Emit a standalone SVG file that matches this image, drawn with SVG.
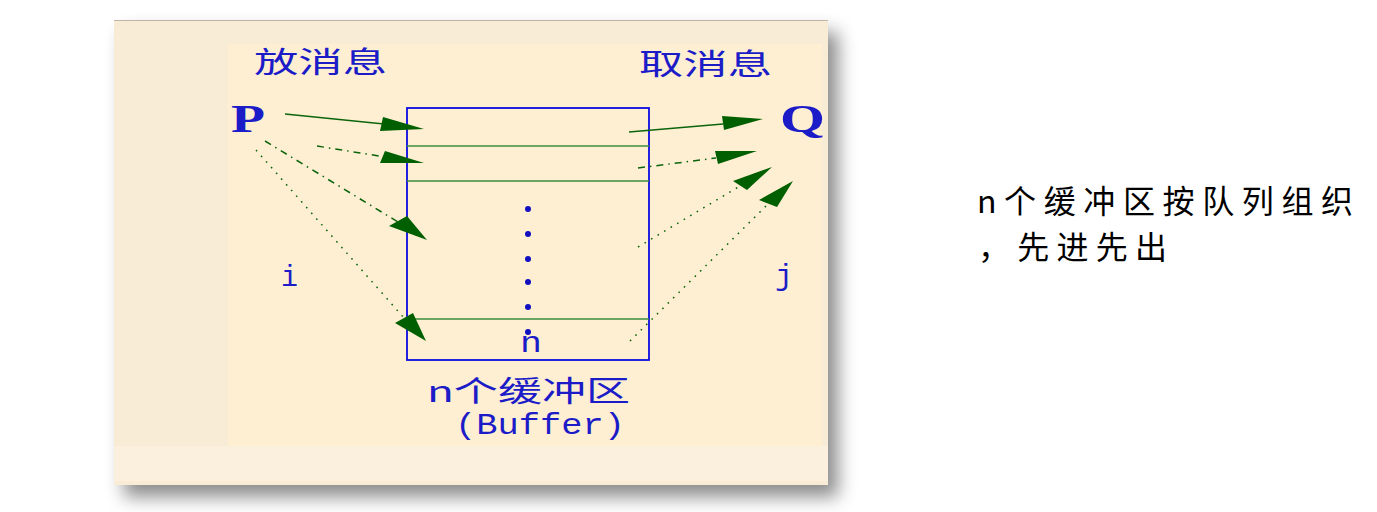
<svg xmlns="http://www.w3.org/2000/svg" width="1377" height="512" viewBox="0 0 1377 512">
<defs>
<filter id="sh" x="-10%" y="-10%" width="130%" height="130%">
<feDropShadow dx="10" dy="12" stdDeviation="9" flood-color="#000" flood-opacity="0.45"/>
</filter>
<style>
.lbl{font-family:"Noto Sans CJK SC","Liberation Serif",serif;font-size:29px;fill:#1b1bc8}
.lat{font-family:"Liberation Mono","Noto Sans CJK SC",monospace;font-weight:normal;fill:#1b1bc8}
.big{font-family:"Liberation Serif",serif;font-size:40px;font-weight:bold;fill:#1b1bc8}
.note{font-family:"Noto Sans CJK SC","Liberation Sans",sans-serif;font-size:32px;fill:#000}
.ln{stroke:#0b640b;stroke-width:1.5;fill:none}
.dd{stroke-dasharray:7 5 1.5 5}
.dt{stroke-dasharray:1.6 6}
.ah{fill:#005f00}
.row{stroke:#3d8c3d;stroke-width:1.6}
.dot{fill:#1010c0}
</style>
</defs>
<rect width="1377" height="512" fill="#ffffff"/>
<g id="panel">
<rect x="114" y="20" width="714" height="465" fill="#f9ecd6" filter="url(#sh)"/>
<line x1="114" y1="20.5" x2="828" y2="20.5" stroke="#bdb5a8" stroke-width="1"/>
<rect x="228" y="44" width="594" height="402" fill="#feefd2"/>
<rect x="114" y="446" width="714" height="35" fill="#fbf0dd"/>
</g>
<g id="labels">
<text class="lbl" x="254" y="73" textLength="133" lengthAdjust="spacingAndGlyphs">放消息</text>
<text class="lbl" x="639" y="75" textLength="133" lengthAdjust="spacingAndGlyphs">取消息</text>
<text class="lat" x="281" y="286" font-size="30" textLength="17" lengthAdjust="spacingAndGlyphs">i</text>
<text class="lat" x="775" y="285" font-size="30" textLength="18" lengthAdjust="spacingAndGlyphs">j</text>
</g>
<g id="P">
<text class="big" x="231" y="132" textLength="34" lengthAdjust="spacingAndGlyphs">P</text>
</g>
<g id="Q">
<text class="big" x="780" y="132" textLength="45" lengthAdjust="spacingAndGlyphs">Q</text>
</g>
<g id="buffer">
<rect x="407" y="108" width="242" height="252" fill="none" stroke="#0a0ae0" stroke-width="1.8"/>
<line class="row" x1="407" y1="146" x2="649" y2="146"/>
<line class="row" x1="407" y1="181" x2="649" y2="181"/>
<line class="row" x1="407" y1="319" x2="649" y2="319"/>
<circle class="dot" cx="528" cy="209" r="3"/>
<circle class="dot" cx="528" cy="234" r="3"/>
<circle class="dot" cx="528" cy="259" r="3"/>
<circle class="dot" cx="528" cy="282" r="3"/>
<circle class="dot" cx="528" cy="307" r="3"/>
<circle class="dot" cx="528" cy="332" r="3"/>
<text class="lat" x="520" y="352" font-size="30" textLength="22" lengthAdjust="spacingAndGlyphs">n</text>
<text class="lbl" x="427" y="402" textLength="203" lengthAdjust="spacingAndGlyphs">n个缓冲区</text>
<text class="lat" x="455" y="434" font-size="29" textLength="170" lengthAdjust="spacingAndGlyphs">(Buffer)</text>
</g>
<g id="connectors">
<line class="ln" x1="285" y1="114" x2="384" y2="124"/>
<polygon class="ah" points="383,117 380,131 424,129"/>
<line class="ln dd" x1="317" y1="146" x2="385" y2="157"/>
<polygon class="ah" points="385,151 380,163 424,163"/>
<line class="ln dd" x1="265" y1="141" x2="398" y2="222"/>
<polygon class="ah" points="407,216 389,226 427,240"/>
<line class="ln dt" x1="256" y1="150" x2="404" y2="318"/>
<polygon class="ah" points="413,313 395,323 426,341"/>
<line class="ln" x1="629" y1="132" x2="723" y2="124"/>
<polygon class="ah" points="722,116 724,130 763,119"/>
<line class="ln dd" x1="638" y1="168" x2="716" y2="158"/>
<polygon class="ah" points="715,151 718,164 757,151"/>
<line class="ln dt" x1="638" y1="247" x2="740" y2="186"/>
<polygon class="ah" points="733,181 747,190 772,167"/>
<line class="ln dt" x1="630" y1="341" x2="768" y2="204"/>
<polygon class="ah" points="759,200 777,207 793,181"/>
</g>
<g id="note">
<text class="note" x="977" y="213" textLength="376" lengthAdjust="spacing">n个缓冲区按队列组织</text>
<text class="note" x="978" y="259" textLength="189" lengthAdjust="spacing">，先进先出</text>
</g>
</svg>
